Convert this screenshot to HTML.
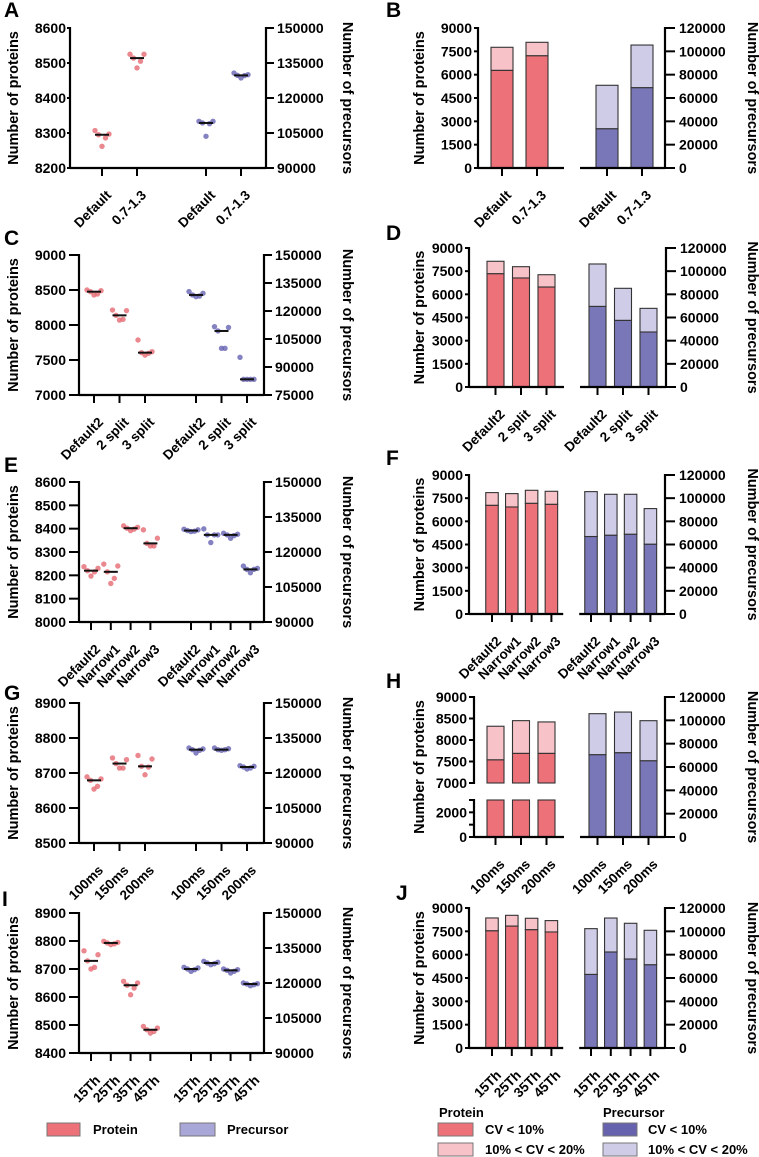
<!DOCTYPE html>
<html><head><meta charset="utf-8"><style>
html,body{margin:0;padding:0;background:#fff;}
svg{display:block;font-family:"Liberation Sans",Arial,sans-serif;}
svg text{font-weight:bold;}
</style></head><body>
<svg id="fig" width="759" height="1157" viewBox="0 0 759 1157" xmlns="http://www.w3.org/2000/svg"></svg>
<script>
// ---------- DATA ----------
const aCats=["Default","0.7-1.3"];
const aProt=[[8307,8297,8295,8286,8262],[8525,8525,8514,8505,8486]];
const aPrec=[[110000,110000,109300,109000,103600],[130700,130000,129700,129600,128600]];
const bCats=["Default","0.7-1.3"];
const bProtLow=[6280,7220], bProtTot=[7760,8080];
const bPrecLow=[33700,68900], bPrecTot=[70900,105400];

const cCats=["Default2","2 split","3 split"];
const cProt=[[8500,8490,8476,8443,8429],[8214,8205,8138,8081,8071],[7786,7619,7605,7595,7571]];
const cPrec=[[130400,129500,128600,128000,127700],[111600,111200,109300,100000,100000],[95200,83400,83400,83400,83400]];
const dCats=["Default2","2 split","3 split"];
const dProtLow=[7340,7060,6475], dProtTot=[8140,7790,7270];
const dPrecLow=[69600,57550,47500], dPrecTot=[106200,85200,67900];

const eCats=["Default2","Narrow1","Narrow2","Narrow3"];
const eProt=[[8237,8230,8220,8215,8197],[8248,8240,8215,8187,8165],[8412,8406,8402,8398,8392],[8395,8359,8337,8326,8326]];
const ePrec=[[129770,129480,129190,128900,128760],[129910,127330,127330,127330,124030],[128040,127610,127330,127040,125890],[113980,112980,112550,112550,111110]];
const fCats=["Default2","Narrow1","Narrow2","Narrow3"];
const fProtLow=[7040,6930,7170,7105], fProtTot=[7860,7795,8010,7945];
const fPrecLow=[66900,68050,68900,60300], fPrecTot=[105650,103350,103350,91000];

const gCats=["100ms","150ms","200ms"];
const gProt=[[8689,8683,8679,8662,8654],[8743,8738,8727,8714,8714],[8750,8740,8719,8717,8695]];
const gPrec=[[130710,130290,130000,129710,128570],[130710,130430,130000,130000,129710],[123140,122860,122570,122140,121710]];
const hCats=["100ms","150ms","200ms"];
const hProtLow=[7540,7690,7690], hProtTot=[8320,8450,8420];
const hPrecLow=[70600,72300,65400], hPrecTot=[105700,107100,99700];

const iCats=["15Th","25Th","35Th","45Th"];
const iProt=[[8765,8751,8729,8706,8700],[8799,8795,8793,8790,8787],[8656,8650,8642,8632,8608],[8495,8489,8483,8477,8471]];
const iPrec=[[126710,126430,126000,125710,125000],[129290,128860,128570,128290,127860],[126000,125710,125430,125000,124290],[120000,119710,119570,119290,118860]];
const jCats=["15Th","25Th","35Th","45Th"];
const jProtLow=[7540,7840,7610,7460], jProtTot=[8360,8530,8340,8190];
const jPrecLow=[63100,82300,76300,71400], jPrecTot=[102300,111400,106900,100900];

const scatterLeftTicks={A:[8200,8300,8400,8500,8600],C:[7000,7500,8000,8500,9000],E:[8000,8100,8200,8300,8400,8500,8600],G:[8500,8600,8700,8800,8900],I:[8400,8500,8600,8700,8800,8900]};
const scatterRightTicks={A:[90000,105000,120000,135000,150000],C:[75000,90000,105000,120000,135000,150000],E:[90000,105000,120000,135000,150000],G:[90000,105000,120000,135000,150000],I:[90000,105000,120000,135000,150000]};
const barLeftTicks=[0,1500,3000,4500,6000,7500,9000];
const barRightTicks=[0,20000,40000,60000,80000,100000,120000];
const hUpperTicks=[7000,7500,8000,8500,9000];
const hLowerTicks=[0,2000];

// ---------- HELPERS ----------
const NS="http://www.w3.org/2000/svg";
const svg=document.getElementById('fig');
function mk(tag,attrs,parent,text){
  const e=document.createElementNS(NS,tag);
  for(const k in attrs) e.setAttribute(k,attrs[k]);
  if(text!==undefined) e.textContent=text;
  (parent||svg).appendChild(e);
  return e;
}
const RED="#ec7179", REDL="#f7c3c9", BLU="#7a77b9", BLUL="#cfcce7";
const PTR="#e66a73", PTB="#6763b3";

function lin(d0,d1,r0,r1){return v=>r0+(v-d0)*(r1-r0)/(d1-d0);}

function catLabels(g,xs,cats,yb){
  cats.forEach((c,i)=>{
    const ex=xs[i]+10, ey=yb+28;
    const t=mk('text',{x:ex,y:ey,'text-anchor':'end','font-size':'13.5','font-weight':'bold',transform:`rotate(-45 ${ex} ${ey})`},g,c);
    
    
  });
}
function letter(ch,x,y){
  const t=mk('text',{x:x,y:y,'font-size':'21','font-weight':'bold'},svg,ch);
  
  
}
function titles(g,xl,xr,yt,yb){
  const cy=(yt+yb)/2;
  const a=mk('text',{x:xl,y:cy,'text-anchor':'middle','font-size':'14.5','font-weight':'bold',transform:`rotate(-90 ${xl} ${cy})`},g,'Number of proteins');
  
  
  const b=mk('text',{x:xr,y:cy,'text-anchor':'middle','font-size':'14.5','font-weight':'bold',transform:`rotate(90 ${xr} ${cy})`},g,'Number of precursors');
  
  
}
function yAxis(g,x,y0,y1,ticks,scale,side,tl,lo){
  mk('line',{x1:x,y1:y0-1,x2:x,y2:y1+1,stroke:'#000','stroke-width':2.2},g);
  ticks.forEach(v=>{
    const y=scale(v);
    mk('line',{x1:side<0?x-tl:x,y1:y,x2:side<0?x:x+tl,y2:y,stroke:'#000','stroke-width':2},g);
    const t=mk('text',{x:side<0?x-lo:x+lo,y:y+5,'text-anchor':side<0?'end':'start','font-size':'14','font-weight':'bold'},g,String(v));
    
    
  });
}

function scatterPanel(key,cfg,cats,prot,prec){
  const g=mk('g',{});
  
  
  const lt=scatterLeftTicks[key], rt=scatterRightTicks[key];
  const yl=lin(lt[0],lt[lt.length-1],cfg.yb,cfg.yt);
  const yr=lin(rt[0],rt[rt.length-1],cfg.yb,cfg.yt);
  yAxis(g,cfg.x0,cfg.yt,cfg.yb,lt,yl,-1,cfg.tl,cfg.lo);
  yAxis(g,cfg.x1,cfg.yt,cfg.yb,rt,yr,1,8,11);
  mk('line',{x1:cfg.x0,y1:cfg.yb,x2:cfg.x1,y2:cfg.yb,stroke:'#000','stroke-width':2.2},g);
  const px=cats.map((c,i)=>cfg.p0+i*cfg.step);
  const qx=cats.map((c,i)=>cfg.q0+i*cfg.step);
  px.concat(qx).forEach(x=>mk('line',{x1:x,y1:cfg.yb,x2:x,y2:cfg.yb+8,stroke:'#000','stroke-width':2},g));
  const off=[-7,7,-3.5,3.5,0];
  function grp(vals,x,sc,col,nm){
    vals.forEach((v,j)=>{
      const c=mk('circle',{cx:x+off[j],cy:sc(v),r:2.7,fill:col,'fill-opacity':0.8},g);
      
      
    });
    const s=vals.slice().sort((a,b)=>a-b); const med=s[2];
    const l=mk('line',{x1:x-7,y1:sc(med),x2:x+7,y2:sc(med),stroke:'#111','stroke-width':2},g);
    
    
  }
  prot.forEach((vals,i)=>grp(vals,px[i],yl,PTR,'protein'));
  prec.forEach((vals,i)=>grp(vals,qx[i],yr,PTB,'precursor'));
  catLabels(g,px,cats,cfg.yb);
  catLabels(g,qx,cats,cfg.yb);
  titles(g,18,343,cfg.yt,cfg.yb);
}

function barPanel(key,cfg,cats,pLow,pTot,rLow,rTot){
  const g=mk('g',{});
  
  
  const yl=lin(0,9000,cfg.yb,cfg.yt);
  const yr=lin(0,120000,cfg.yb,cfg.yt);
  const px=cats.map((c,i)=>cfg.p0+i*cfg.step);
  const qx=cats.map((c,i)=>cfg.q0+i*cfg.step);
  const w=cfg.bw;
  function bar(x,y0,y1,fill,nm){
    const r=mk('rect',{x:x-w/2,y:Math.min(y0,y1),width:w,height:Math.abs(y1-y0),fill:fill,stroke:'#333','stroke-width':1.1},g);
    
    
  }
  pLow.forEach((v,i)=>{
    if(cfg.broken){
      const yup=lin(7000,9000,cfg.upBot,cfg.yt);
      bar(px[i],cfg.yb,cfg.lowTop,RED,'protein-cv10-bar-lower');
      bar(px[i],cfg.upBot,yup(v),RED,'protein-cv10-bar');
      bar(px[i],yup(v),yup(pTot[i]),REDL,'protein-cv20-bar');
    } else {
      bar(px[i],cfg.yb,yl(v),RED,'protein-cv10-bar');
      bar(px[i],yl(v),yl(pTot[i]),REDL,'protein-cv20-bar');
    }
  });
  rLow.forEach((v,i)=>{
    bar(qx[i],cfg.yb,yr(v),BLU,'precursor-cv10-bar');
    bar(qx[i],yr(v),yr(rTot[i]),BLUL,'precursor-cv20-bar');
  });
  if(cfg.broken){
    const yup=lin(7000,9000,cfg.upBot,cfg.yt), ylo=lin(0,3000,cfg.yb,cfg.lowTop);
    yAxis(g,cfg.x0,cfg.yt,cfg.upBot,hUpperTicks,yup,-1,5,7);
    yAxis(g,cfg.x0,cfg.lowTop,cfg.yb,hLowerTicks,ylo,-1,5,7);
    [1000,3000].forEach(v=>mk('line',{x1:cfg.x0-5,y1:ylo(v),x2:cfg.x0,y2:ylo(v),stroke:'#000','stroke-width':2},g));
  } else {
    yAxis(g,cfg.x0,cfg.yt,cfg.yb,barLeftTicks,yl,-1,4,6);
  }
  yAxis(g,cfg.x1,cfg.yt,cfg.yb,barRightTicks,yr,1,10,14);
  const mid=(px[px.length-1]+qx[0])/2;
  mk('line',{x1:cfg.x0,y1:cfg.yb,x2:mid-8,y2:cfg.yb,stroke:'#000','stroke-width':2.2},g);
  mk('line',{x1:mid+8,y1:cfg.yb,x2:cfg.x1,y2:cfg.yb,stroke:'#000','stroke-width':2.2},g);
  px.concat(qx).forEach(x=>mk('line',{x1:x,y1:cfg.yb,x2:x,y2:cfg.yb+8,stroke:'#000','stroke-width':2},g));
  catLabels(g,px,cats,cfg.yb);
  catLabels(g,qx,cats,cfg.yb);
  titles(g,424,748,cfg.yt,cfg.yb);
}

// ---------- PANELS ----------
letter('A',4,17); letter('B',386,17);
scatterPanel('A',{x0:70,x1:266,yt:28,yb:168,p0:102,q0:206,step:35,tl:3,lo:4},aCats,aProt,aPrec);
barPanel('B',{x0:478,x1:665,yt:28,yb:168,p0:502,q0:607,step:35,bw:22},bCats,bProtLow,bProtTot,bPrecLow,bPrecTot);

letter('C',4,245); letter('D',386,240);
scatterPanel('C',{x0:79,x1:264,yt:255,yb:395,p0:94,q0:196,step:25.5,tl:10,lo:13},cCats,cProt,cPrec);
barPanel('D',{x0:469,x1:666,yt:248,yb:387,p0:495.5,q0:597.5,step:25.5,bw:17},dCats,dProtLow,dProtTot,dPrecLow,dPrecTot);

letter('E',4,472); letter('F',386,465);
scatterPanel('E',{x0:79,x1:264,yt:482,yb:622,p0:91,q0:191,step:19.8,tl:10,lo:13},eCats,eProt,ePrec);
barPanel('F',{x0:469,x1:665,yt:475,yb:614,p0:492,q0:591,step:19.8,bw:12.5},fCats,fProtLow,fProtTot,fPrecLow,fPrecTot);

letter('G',4,700); letter('H',386,688);
scatterPanel('G',{x0:79,x1:264,yt:703,yb:843,p0:94,q0:196,step:25.5,tl:10,lo:13},gCats,gProt,gPrec);
barPanel('H',{x0:474,x1:665,yt:697,yb:837,p0:495.5,q0:597.5,step:25.5,bw:17,broken:true,upBot:783,lowTop:800},hCats,hProtLow,hProtTot,hPrecLow,hPrecTot);

letter('I',2,906); letter('J',396,900);
scatterPanel('I',{x0:79,x1:264,yt:913,yb:1053,p0:91,q0:191,step:19.8,tl:10,lo:13},iCats,iProt,iPrec);
barPanel('J',{x0:469,x1:665,yt:908,yb:1048,p0:492,q0:591,step:19.8,bw:12.5},jCats,jProtLow,jProtTot,jPrecLow,jPrecTot);

// ---------- LEGENDS ----------
function legBox(x,y,w,h,fill,nm){
  const r=mk('rect',{x:x,y:y,width:w,height:h,fill:fill,stroke:'#777','stroke-width':1});
  
  
}
function legText(x,y,s,nm){
  const t=mk('text',{x:x,y:y,'font-size':'13','font-weight':'bold'},svg,s);
  
  
}
legBox(47,1123,33,13,RED,'legend-protein-swatch'); legText(93,1134,'Protein','legend-protein-label');
legBox(180,1123,35,13,"#a9a6d8",'legend-precursor-swatch'); legText(227,1134,'Precursor','legend-precursor-label');
legText(439,1117,'Protein','legend-protein-heading'); legText(603,1117,'Precursor','legend-precursor-heading');
legBox(438,1123,35,13,RED,'legend-protein-cv10-swatch'); legText(485,1134,'CV < 10%','legend-protein-cv10-label');
legBox(438,1143,35,13,REDL,'legend-protein-cv20-swatch'); legText(485,1154,'10% < CV < 20%','legend-protein-cv20-label');
legBox(603,1123,34,13,"#6662ad",'legend-precursor-cv10-swatch'); legText(648,1134,'CV < 10%','legend-precursor-cv10-label');
legBox(603,1143,34,13,BLUL,'legend-precursor-cv20-swatch'); legText(648,1154,'10% < CV < 20%','legend-precursor-cv20-label');
</script>
</body></html>
